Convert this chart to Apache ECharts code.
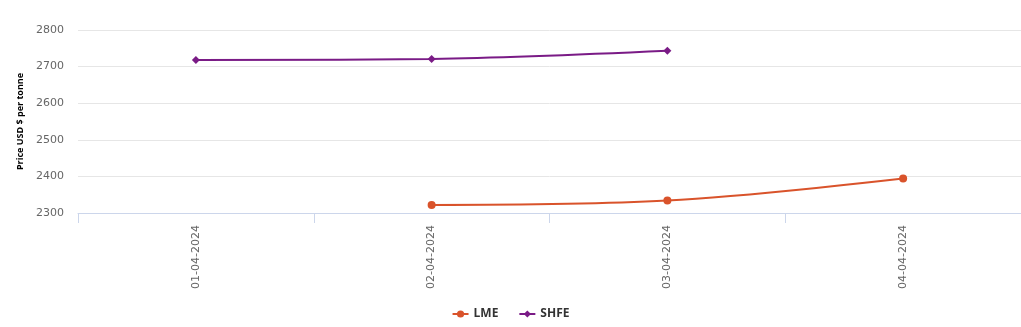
<!DOCTYPE html>
<html>
<head>
<meta charset="utf-8">
<script src="https://cdn.jsdelivr.net/npm/echarts@6/dist/echarts.min.js"></script>
<style>
html,body{margin:0;padding:0;background:#fff;}
#chart{width:1021px;height:327px;}
</style>
</head>
<body>
<div id="chart"></div>
<script>
// Daily prices per exchange (USD per tonne)
const dates = ['01-04-2024', '02-04-2024', '03-04-2024', '04-04-2024'];
const lmePrices = [null, 2322, 2334, 2394];
const shfePrices = [2718, 2721, 2743, null];
const yTicks = [2300, 2400, 2500, 2600, 2700, 2800];

const chart = echarts.init(document.getElementById('chart'));
chart.setOption({
  animation: false,
  grid: { left: 78, right: 0, top: 30, bottom: 114 },
  legend: {
    bottom: 2,
    left: 'center',
    itemGap: 20,
    itemWidth: 16,
    itemHeight: 9,
    textStyle: { fontFamily: 'Open Sans', fontSize: 12, fontWeight: 'bold', color: '#333' },
    data: ['LME', 'SHFE']
  },
  xAxis: {
    type: 'category',
    data: dates,
    boundaryGap: true,
    axisLine: { lineStyle: { color: '#ccd6eb', width: 1 } },
    axisTick: { show: true, length: 10, lineStyle: { color: '#ccd6eb' } },
    axisLabel: {
      rotate: 90,
      margin: 12,
      color: '#666',
      fontFamily: 'DejaVu Sans',
      fontSize: 11
    }
  },
  yAxis: {
    type: 'value',
    min: yTicks[0],
    max: yTicks[yTicks.length - 1],
    interval: 100,
    name: 'Price USD $ per tonne',
    nameLocation: 'middle',
    nameGap: 51,
    nameTextStyle: { color: '#000', fontFamily: 'Open Sans', fontSize: 9, fontWeight: 'bold' },
    axisLine: { show: false },
    axisTick: { show: false },
    axisLabel: {
      color: '#666',
      fontFamily: 'DejaVu Sans',
      fontSize: 11,
      margin: 14,
      formatter: v => String(v)
    },
    splitLine: { lineStyle: { color: '#e6e6e6', width: 1 } }
  },
  series: [
    {
      name: 'LME',
      type: 'line',
      data: lmePrices,
      smooth: 0.35,
      connectNulls: false,
      symbol: 'circle',
      symbolSize: 8,
      color: '#d9532b',
      lineStyle: { width: 2 }
    },
    {
      name: 'SHFE',
      type: 'line',
      data: shfePrices,
      smooth: 0.35,
      connectNulls: false,
      symbol: 'diamond',
      symbolSize: 8,
      color: '#7a1b86',
      lineStyle: { width: 2 }
    }
  ]
});
</script>
</body>
</html>
